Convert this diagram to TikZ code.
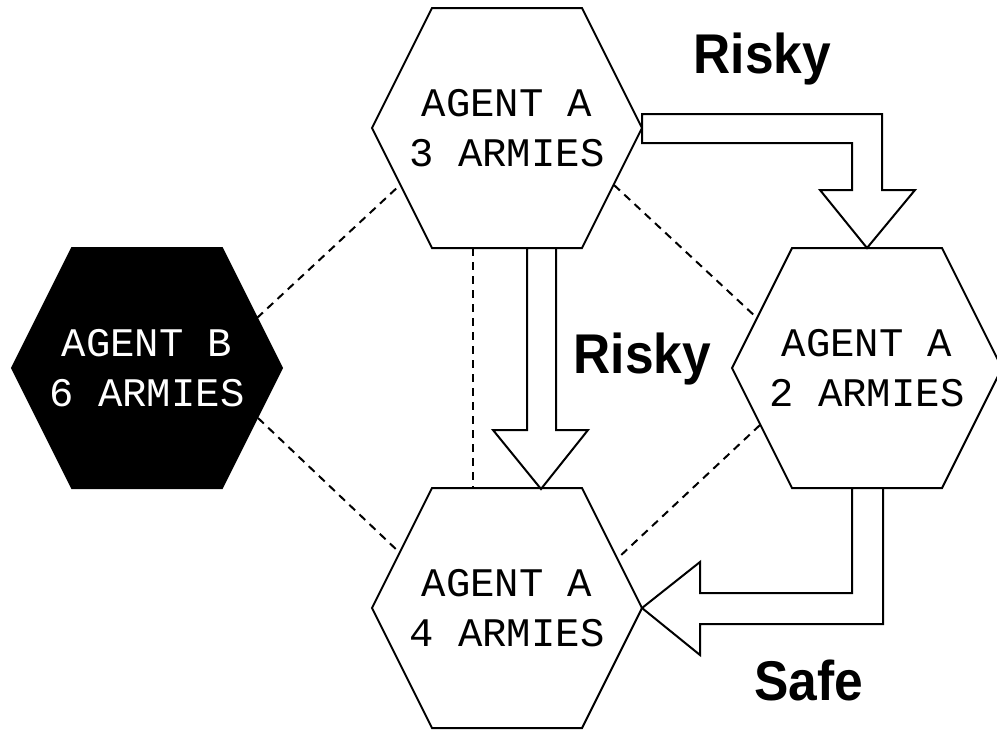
\documentclass[tikz,border=0pt]{standalone}
\usepackage{fontspec}
\usetikzlibrary{calc}
\newfontfamily\monof{Liberation Mono}
\newfontfamily\labf{Liberation Sans}[BoldFont={Liberation Sans Bold}]
\tikzset{
  hexa/.pic={\path[pic actions] (-135,0) -- (-75,-120) -- (75,-120) -- (135,0) -- (75,120) -- (-75,120) -- cycle;},
  hexline/.style={draw=black, line width=2pt, line join=miter},
  agent/.style={align=center, inner sep=0pt, font=\monof\fontsize{40.6}{50}\selectfont},
  adj/.style={draw=black, line width=2pt, dash pattern=on 8pt off 6pt},
  blockarrow/.style={draw=black, fill=white, line width=2pt, line join=miter},
  lab/.style={anchor=base, inner sep=0pt, font=\labf\bfseries\fontsize{56}{60}\selectfont}
}
\begin{document}
\begin{tikzpicture}[x=1pt, y=-1pt]
\useasboundingbox (0,0) rectangle (997,731);
\fill[white] (0,0) rectangle (997,731);
% hex centres
\coordinate (c3) at (507,128);
\coordinate (c2) at (867,368);
\coordinate (cb) at (147,368);
\coordinate (c4) at (507,608);
% hexagons
\pic[hexline, fill=white] at (c3) {hexa};
\pic[hexline, fill=white] at (c2) {hexa};
\pic[hexline, fill=black] at (cb) {hexa};
\pic[hexline, fill=white] at (c4) {hexa};
% adjacency (dashed)
\draw[adj] ($(cb)+(110,-50)$) -- ($(c3)+(-107,57)$);
\draw[adj] ($(cb)+(111,50)$) -- ($(c4)+(-107,-55)$);
\draw[adj] ($(c3)+(107,57)$) -- ($(c2)+(-110,-50)$);
\draw[adj] ($(c2)+(-107,57)$) -- ($(c4)+(111,-50)$);
\draw[adj] ($(c3)+(-34,120)$) -- ($(c4)+(-34,-119)$);
% block arrows
\draw[blockarrow] ($(c3)+(20,120)$) -- ++(0,182) -- ++(-34,0) -- ($(c4)+(34,-119)$) -- ++(47,-59) -- ++(-32,0) -- ($(c3)+(49,120)$) -- cycle;
\draw[blockarrow] ($(c3)+(135,-14)$) -- ++(240,0) -- ++(0,76) -- ++(33,0) -- ($(c2)+(0,-120)$) -- ++(-47,-58) -- ++(32,0) -- ++(0,-47) -- ($(c3)+(135,15)$) -- cycle;
\draw[blockarrow] ($(c2)+(-15,120)$) -- ++(31,0) -- ++(0,136) -- ++(-183,0) -- ++(0,31) -- ($(c4)+(135,0)$) -- ++(58,-46) -- ++(0,31) -- ++(152,0) -- cycle;
% texts
\node[agent] (a3) at (c3) {AGENT A\\3 ARMIES};
\node[agent] (a2) at (c2) {AGENT A\\2 ARMIES};
\node[agent, text=white] (b) at (cb) {AGENT B\\6 ARMIES};
\node[agent] (a4) at (c4) {AGENT A\\4 ARMIES};
% labels
\node[lab] (l1) at (762.5,73) {\scalebox{0.92}[1]{Risky}};
\node[lab] (l2) at (642.5,373) {\scalebox{0.92}[1]{Risky}};
\node[lab] (l3) at (808.5,700) {\scalebox{0.92}[1]{Safe}};
\end{tikzpicture}
\end{document}
